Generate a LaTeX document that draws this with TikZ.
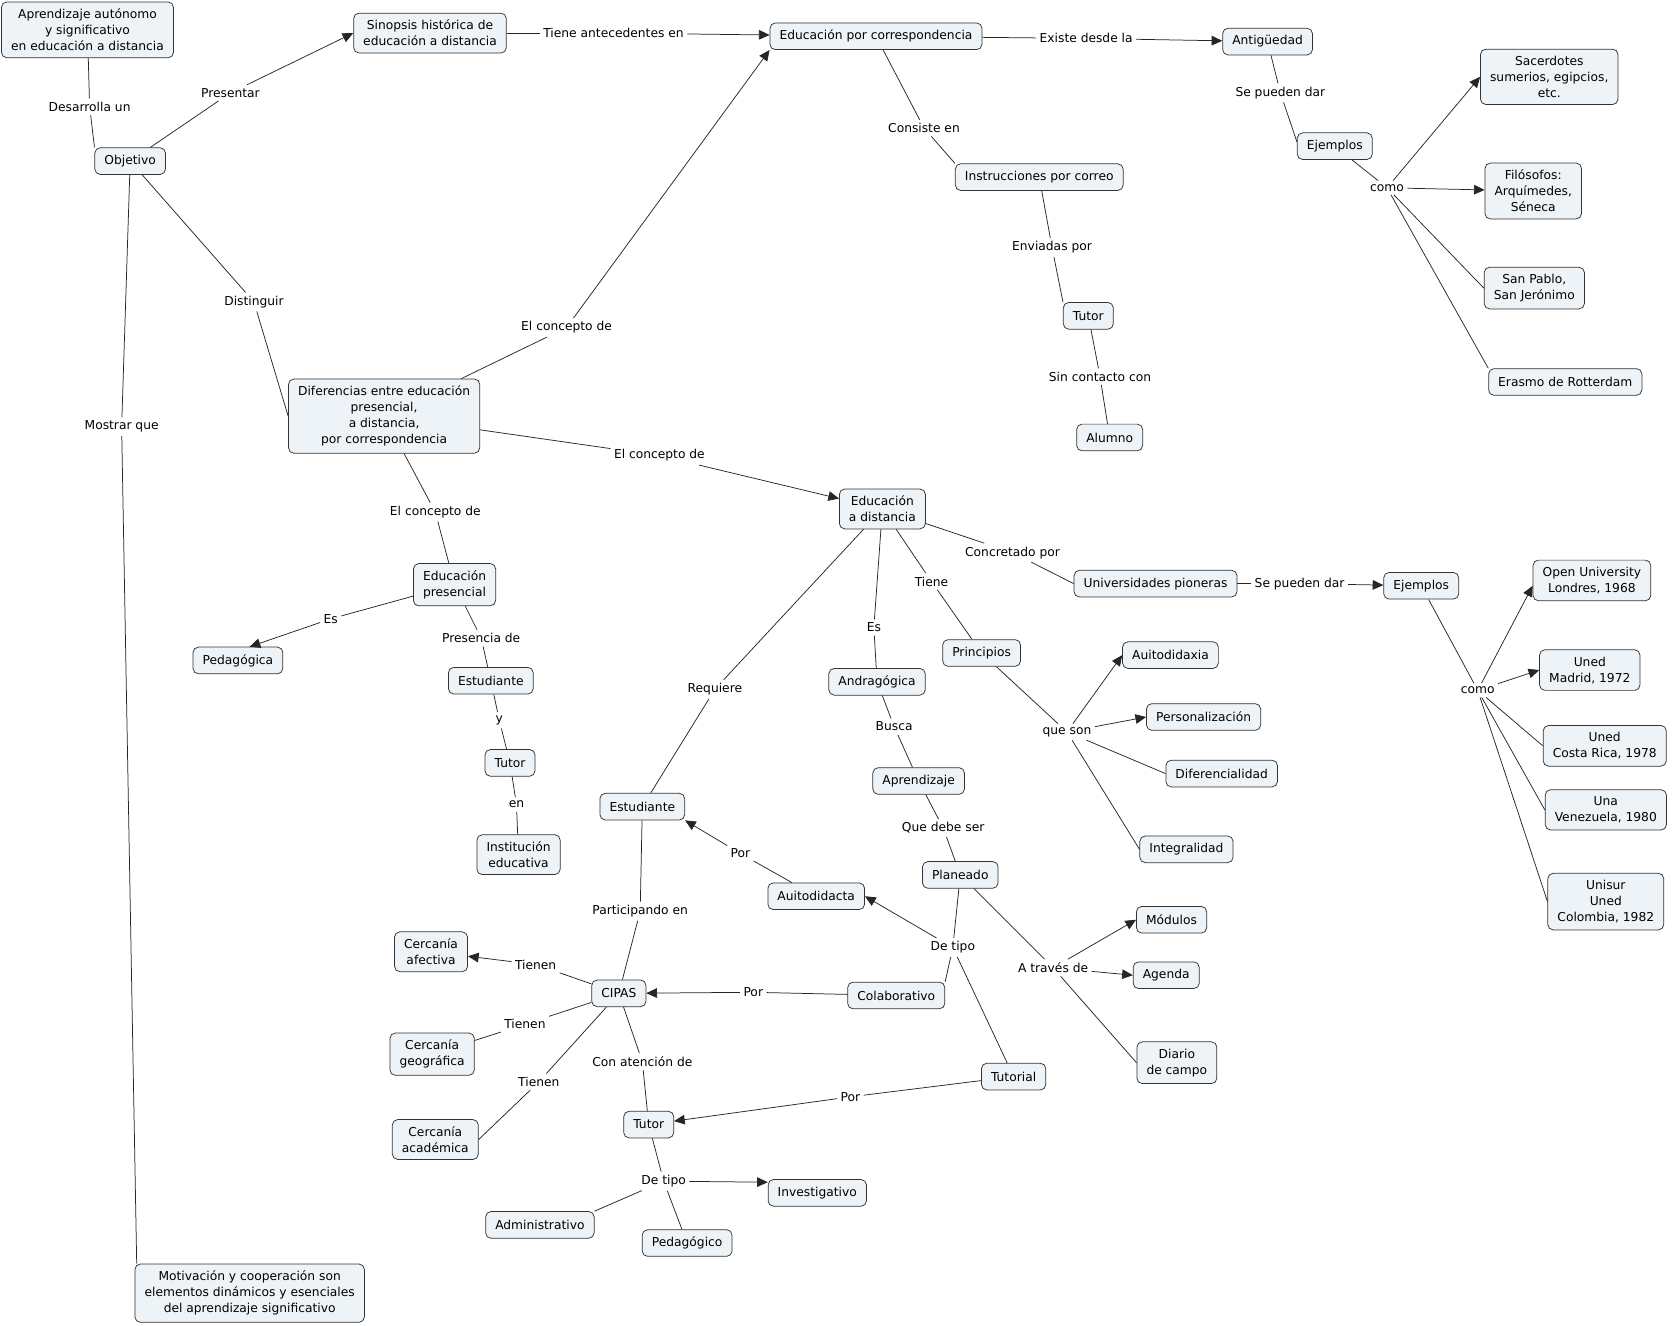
\documentclass[tikz,border=0pt]{standalone}
\usepackage{fontspec}
\setmainfont{DejaVu Sans}
\usetikzlibrary{arrows.meta}
\definecolor{cmapbox}{RGB}{237,243,246}
\tikzset{>={Triangle[length=10pt,width=9pt]},
every edge/.append style={draw=black!85},
concept/.style={draw=black!80, fill=cmapbox, rounded corners=5pt, align=center, inner xsep=9pt, inner ysep=6.5pt, minimum height=25pt},
phrase/.style={inner sep=3pt},
}

\begin{document}
\begin{tikzpicture}[x=1pt, y=-1pt, font=\fontsize{11.5}{15}\selectfont, line width=0.7pt]
    \path[fill=white, use as bounding box] (0,0) rectangle (1568,1242);
        \node[concept] (aprend) at (82,28) {Aprendizaje autónomo\\y significativo\\en educación a distancia};
        \node[concept] (sinopsis) at (403,31) {Sinopsis histórica de\\educación a distancia};
        \node[concept] (objetivo) at (122,151) {Objetivo};
        \node[concept] (edcorr) at (821,34) {Educación por correspondencia};
        \node[concept] (antig) at (1188,39) {Antigüedad};
        \node[concept] (instr) at (974,166) {Instrucciones por correo};
        \node[concept] (tutorA) at (1020,296) {Tutor};
        \node[concept] (alumno) at (1040,410) {Alumno};
        \node[concept] (ejemplosA) at (1251,137) {Ejemplos};
        \node[concept] (sacerdotes) at (1452,72) {Sacerdotes\\sumerios, egipcios,\\etc.};
        \node[concept] (filosofos) at (1437,179) {Filósofos:\\Arquímedes,\\Séneca};
        \node[concept] (sanpablo) at (1438,270) {San Pablo,\\San Jerónimo};
        \node[concept] (erasmo) at (1467,358) {Erasmo de Rotterdam};
        \node[concept] (diferencias) at (360,390) {Diferencias entre educación\\presencial,\\a distancia,\\por correspondencia};
        \node[concept] (edpres) at (426,548) {Educación\\presencial};
        \node[concept] (pedagogica) at (223,619) {Pedagógica};
        \node[concept] (estudA) at (460,638) {Estudiante};
        \node[concept] (tutorB) at (478,715) {Tutor};
        \node[concept] (instit) at (486,801) {Institución\\educativa};
        \node[concept] (eddist) at (827,477) {Educación\\a distancia};
        \node[concept] (univ) at (1083,547) {Universidades pioneras};
        \node[concept] (ejemplosB) at (1332,549) {Ejemplos};
        \node[concept] (openu) at (1492,544) {Open University\\Londres, 1968};
        \node[concept] (unedmad) at (1490,628) {Uned\\Madrid, 1972};
        \node[concept] (unedcr) at (1504,699) {Uned\\Costa Rica, 1978};
        \node[concept] (unave) at (1505,759) {Una\\Venezuela, 1980};
        \node[concept] (unisur) at (1505,845) {Unisur\\Uned\\Colombia, 1982};
        \node[concept] (principios) at (920,612) {Principios};
        \node[concept] (andrag) at (822,639) {Andragógica};
        \node[concept] (aprendizaje) at (861,732) {Aprendizaje};
        \node[concept] (planeado) at (900,820) {Planeado};
        \node[concept] (estudB) at (602,756) {Estudiante};
        \node[concept] (autodidacta) at (765,840) {Auitodidacta};
        \node[concept] (autodidaxia) at (1097,614) {Auitodidaxia};
        \node[concept] (personal) at (1128,672) {Personalización};
        \node[concept] (diferencial) at (1145,725) {Diferencialidad};
        \node[concept] (integral) at (1112,796) {Integralidad};
        \node[concept] (modulos) at (1098,862) {Módulos};
        \node[concept] (agenda) at (1093,914) {Agenda};
        \node[concept] (diario) at (1103,996) {Diario\\de campo};
        \node[concept] (colab) at (840,933) {Colaborativo};
        \node[concept] (tutorial) at (950,1009) {Tutorial};
        \node[concept] (cipas) at (580,931) {CIPAS};
        \node[concept] (tutorC) at (608,1054) {Tutor};
        \node[concept] (investig) at (766,1118) {Investigativo};
        \node[concept] (pedagogico) at (644,1165) {Pedagógico};
        \node[concept] (administ) at (506,1148) {Administrativo};
        \node[concept] (cercafec) at (404,892) {Cercanía\\afectiva};
        \node[concept] (cercgeo) at (405,988) {Cercanía\\geográfica};
        \node[concept] (cercacad) at (408,1068) {Cercanía\\académica};
        \node[concept] (motiv) at (234,1212) {Motivación y cooperación son\\elementos dinámicos y esenciales\\del aprendizaje significativo};

        \node[phrase] (desarrolla) at (84,100) {Desarrolla un};
        \node[phrase] (presentar) at (216,87) {Presentar};
        \node[phrase] (distinguir) at (238,283) {Distinguir};
        \node[phrase] (mostrar) at (114,400) {Mostrar que};
        \node[phrase] (antecedentes) at (575,31) {Tiene antecedentes en};
        \node[phrase] (conceptoA) at (531,307) {El concepto de};
        \node[phrase] (conceptoB) at (618,427) {El concepto de};
        \node[phrase] (conceptoC) at (408,480) {El concepto de};
        \node[phrase] (existe) at (1018,36) {Existe desde la};
        \node[phrase] (consiste) at (866,120) {Consiste en};
        \node[phrase] (enviadas) at (986,232) {Enviadas por};
        \node[phrase] (sincontacto) at (1031,353) {Sin contacto con};
        \node[phrase] (puedenA) at (1200,87) {Se pueden dar};
        \node[phrase] (comoA) at (1300,176) {como};
        \node[phrase] (esA) at (310,580) {Es};
        \node[phrase] (presencia) at (451,598) {Presencia de};
        \node[phrase] (yy) at (468,675) {y};
        \node[phrase] (en) at (484,754) {en};
        \node[phrase] (concretado) at (949,518) {Concretado por};
        \node[phrase] (puedenB) at (1218,547) {Se pueden dar};
        \node[phrase] (comoB) at (1385,647) {como};
        \node[phrase] (tiene) at (873,545) {Tiene};
        \node[phrase] (esB) at (819,588) {Es};
        \node[phrase] (requiere) at (670,646) {Requiere};
        \node[phrase] (queson) at (1000,686) {que son};
        \node[phrase] (busca) at (838,681) {Busca};
        \node[phrase] (quedebe) at (884,776) {Que debe ser};
        \node[phrase] (detipoA) at (893,888) {De tipo};
        \node[phrase] (atraves) at (987,907) {A través de};
        \node[phrase] (porA) at (694,800) {Por};
        \node[phrase] (participando) at (600,854) {Participando en};
        \node[phrase] (porB) at (706,930) {Por};
        \node[phrase] (tienenA) at (502,904) {Tienen};
        \node[phrase] (tienenB) at (492,960) {Tienen};
        \node[phrase] (tienenC) at (505,1014) {Tienen};
        \node[phrase] (atencion) at (602,995) {Con atención de};
        \node[phrase] (porC) at (797,1028) {Por};
        \node[phrase] (detipoB) at (622,1107) {De tipo};

        \draw
        (aprend) edge (desarrolla) (desarrolla) edge (objetivo.north west)
        (objetivo) edge (presentar) (presentar) edge[->] (sinopsis.west)
        (objetivo) edge (distinguir) (distinguir) edge (diferencias.west)
        (objetivo) edge (mostrar) (mostrar) edge ([xshift=2pt]motiv.north west)
        (sinopsis) edge (antecedentes) (antecedentes) edge[->] (edcorr)
        (diferencias) edge (conceptoA) (conceptoA) edge[->] (edcorr.south west)
        (diferencias) edge (conceptoB) (conceptoB) edge[->] (eddist)
        (diferencias) edge (conceptoC) (conceptoC) edge (edpres)
        (edcorr) edge (existe) (existe) edge[->] (antig)
        (edcorr) edge (consiste) (consiste) edge (instr.north west)
        (instr) edge (enviadas) (enviadas) edge (tutorA.north west)
        (tutorA) edge (sincontacto) (sincontacto) edge (alumno)
        (antig) edge (puedenA) (puedenA) edge ([yshift=4pt]ejemplosA.west)
        (ejemplosA) edge (comoA)
        (comoA) edge[->] (sacerdotes.west)
        (comoA) edge[->] (filosofos)
        (comoA) edge (sanpablo.west)
        (comoA) edge (erasmo.north west)
        (edpres) edge (esA) (esA) edge[->] ([xshift=11pt]pedagogica.north)
        (edpres) edge (presencia) (presencia) edge (estudA)
        (estudA) edge (yy) (yy) edge (tutorB)
        (tutorB) edge (en) (en) edge (instit)
        (eddist) edge (concretado) (concretado) edge (univ.west)
        (univ) edge (puedenB) (puedenB) edge[->] (ejemplosB)
        (ejemplosB) edge (comoB)
        (comoB) edge[->] ([yshift=-5pt]openu.west)
        (comoB) edge[->] (unedmad.west)
        (comoB) edge (unedcr.west)
        (comoB) edge (unave.west)
        (comoB) edge (unisur.west)
        (eddist) edge (tiene) (tiene) edge (principios)
        (eddist) edge (esB) (esB) edge (andrag)
        (eddist) edge (requiere) (requiere) edge (estudB)
        (principios) edge (queson)
        (queson) edge[->] (autodidaxia.west)
        (queson) edge[->] (personal.west)
        (queson) edge (diferencial.west)
        (queson) edge (integral.west)
        (andrag) edge (busca) (busca) edge (aprendizaje)
        (aprendizaje) edge (quedebe) (quedebe) edge (planeado)
        (planeado) edge (detipoA)
        (detipoA) edge[->] (autodidacta.east)
        (detipoA) edge (colab.north east)
        (detipoA) edge (tutorial)
        (planeado) edge (atraves)
        (atraves) edge[->] (modulos.west)
        (atraves) edge[->] (agenda.west)
        (atraves) edge (diario.west)
        (autodidacta) edge (porA) (porA) edge[->] (estudB.south east)
        (estudB) edge (participando) (participando) edge (cipas)
        (colab) edge (porB) (porB) edge[->] (cipas)
        (cipas) edge (tienenA) (tienenA) edge[->] (cercafec)
        (cipas) edge (tienenB) (tienenB) edge (cercgeo)
        (cipas) edge (tienenC) (tienenC) edge (cercacad.east)
        (cipas) edge (atencion) (atencion) edge (tutorC)
        (tutorial) edge (porC) (porC) edge[->] (tutorC)
        (tutorC) edge (detipoB)
        (detipoB) edge[->] ([yshift=10pt]investig.west)
        (detipoB) edge (administ.north east)
        (detipoB) edge (pedagogico)
        ;
    \end{tikzpicture}
\end{document}
